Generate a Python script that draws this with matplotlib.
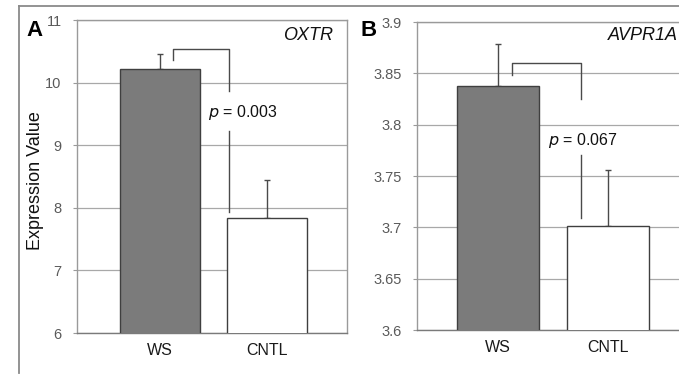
import matplotlib
matplotlib.use("Agg")
import matplotlib.pyplot as plt
from matplotlib.lines import Line2D

plt.rcParams['font.family'] = ['Liberation Sans', 'DejaVu Sans']

categories = ["WS", "CNTL"]
oxtr_values = [10.22, 7.84]
oxtr_errors = [0.24, 0.60]
avpr_values = [3.838, 3.701]
avpr_errors = [0.041, 0.055]
oxtr_ticks = [6, 7, 8, 9, 10, 11]
avpr_ticks = [3.6, 3.65, 3.7, 3.75, 3.8, 3.85, 3.9]
avpr_ticklabels = ["3.6", "3.65", "3.7", "3.75", "3.8", "3.85", "3.9"]

W, H = 679, 375
fig = plt.figure(figsize=(W / 100, H / 100), dpi=100)
fig.patch.set_facecolor('white')

# outer frame lines (top and left)
fig.add_artist(Line2D([19 / W, 1.0], [1 - 6 / H, 1 - 6 / H], transform=fig.transFigure,
                      color='#8a8a8a', lw=1.3))
fig.add_artist(Line2D([19 / W, 19 / W], [1 - 6 / H, 1 - 373 / H], transform=fig.transFigure,
                      color='#8a8a8a', lw=1.3))

def px_axes(left, top, right, bottom):
    return fig.add_axes([left / W, 1 - bottom / H, (right - left) / W, (bottom - top) / H])

axA = px_axes(77, 20, 347, 333)
axB = px_axes(417, 22, 687, 330)

def style(ax, values, errors, ticks, ticklabels, ylim, xlim, width):
    x = list(range(len(categories)))
    ax.set_xlim(*xlim)
    ax.set_ylim(*ylim)
    ax.set_yticks(ticks)
    ax.set_yticklabels(ticklabels)
    ax.yaxis.grid(True, color='#a8a8a8', lw=0.9)
    ax.set_axisbelow(True)
    ax.bar(x, values, width=width, color=['#7b7b7b', 'white'], edgecolor='#3f3f3f', lw=1.0, zorder=3)
    ax.errorbar(x, values, yerr=[[0, 0], errors], fmt='none', ecolor='#4a4a4a',
                elinewidth=1.0, capsize=2.5, capthick=1.0, zorder=2)
    for s in ax.spines.values():
        s.set_color('#9a9a9a')
        s.set_linewidth(1.0)
    ax.spines['bottom'].set_color('#7a7a7a')
    ax.set_xticks(x)
    ax.set_xticklabels(categories, fontsize=11.5, color='#1a1a1a')
    ax.tick_params(axis='x', length=0, pad=7)
    ax.tick_params(axis='y', length=3, width=0.8, color='#9a9a9a', labelsize=10.5,
                   labelcolor='#5a5a5a', pad=8)

style(axA, oxtr_values, oxtr_errors, oxtr_ticks, [str(t) for t in oxtr_ticks],
      (6, 11), (-0.776, 1.747), 0.74)
style(axB, avpr_values, avpr_errors, avpr_ticks, avpr_ticklabels,
      (3.6, 3.9), (-0.736, 1.718), 0.745)

# brackets and p-values
lc = '#4a4a4a'
axA.plot([0.12, 0.12, 0.645, 0.645], [10.36, 10.53, 10.53, 9.86], color=lc, lw=1.0, zorder=4)
axA.plot([0.645, 0.645], [9.22, 7.94], color=lc, lw=1.0, zorder=4)
axA.text(0.45, 9.53, r"$\it{p}$ = 0.003", fontsize=11.5, va='center', ha='left', color='#111',
         zorder=5)

axB.plot([0.127, 0.127, 0.755, 0.755], [3.848, 3.8603, 3.8603, 3.825], color=lc, lw=1.0, zorder=4)
axB.plot([0.755, 0.755], [3.7705, 3.709], color=lc, lw=1.0, zorder=4)
axB.text(0.455, 3.785, r"$\it{p}$ = 0.067", fontsize=11.5, va='center', ha='left', color='#111',
         zorder=5)

# gene names
fig.text(333 / W, 1 - 35 / H, "OXTR", fontsize=13, style='italic', ha='right', va='center',
         color='#111')
fig.text(608 / W, 1 - 35 / H, "AVPR1A", fontsize=13, style='italic', ha='left', va='center',
         color='#111')

# panel letters
fig.text(26 / W, 1 - 31 / H, "A", fontsize=16, fontweight='bold', ha='left', va='center')
fig.text(361 / W, 1 - 31 / H, "B", fontsize=16, fontweight='bold', ha='left', va='center')

# y label
fig.text(36 / W, 1 - 181 / H, "Expression Value", fontsize=13, rotation=90, ha='center',
         va='center', color='#111')

fig.savefig("out.png", dpi=100, facecolor='white')
